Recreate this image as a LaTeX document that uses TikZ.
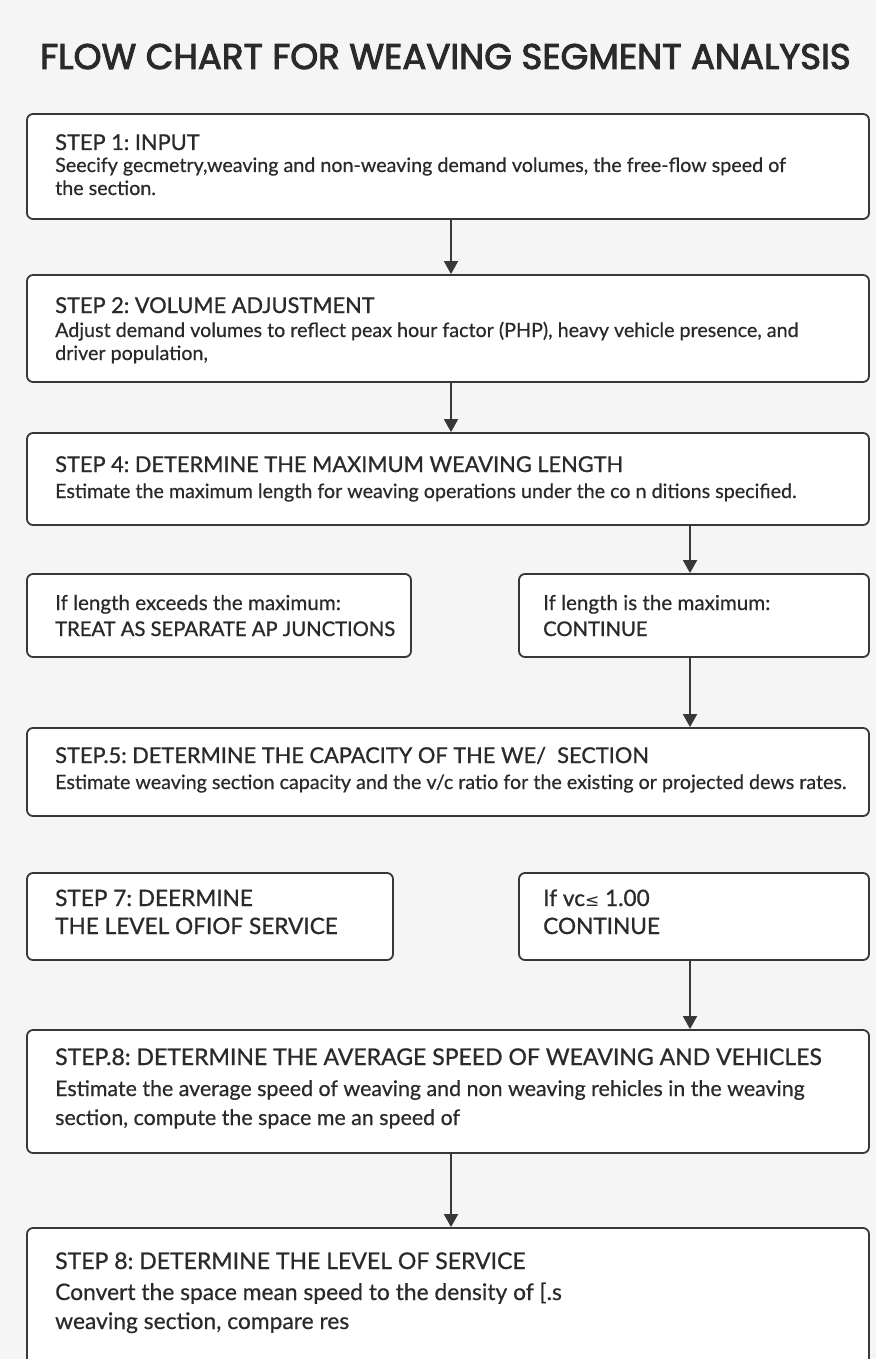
\documentclass[tikz,border=0pt]{standalone}
\usepackage{fontspec}
\setmainfont{Lato}
\newfontfamily\bodyfont{Lato}[FakeBold=0.5]
\newfontfamily\headfont{Lato}[FakeBold=0.9]
\newfontfamily\titlefont{Poppins}[FakeBold=2.8]
\newfontfamily\symfont{DejaVu Sans}
\usetikzlibrary{arrows.meta}
\definecolor{bg}{HTML}{F5F5F5}
\definecolor{ink}{HTML}{2A2A2A}
\definecolor{edge}{HTML}{383838}
\frenchspacing
\begin{document}
\begin{tikzpicture}[x=1pt,y=-1pt,
  box/.style={draw=edge, line width=1.8pt, fill=white, rounded corners=6pt, inner sep=0pt},
  hd/.style={anchor=base west, inner sep=0pt, text=ink, font=\headfont\fontsize{21.8}{22}\selectfont},
  tx/.style={anchor=base west, inner sep=0pt, text=ink, font=\bodyfont\fontsize{19.7}{20}\selectfont},
  sm/.style={anchor=base west, inner sep=0pt, text=ink, font=\bodyfont\fontsize{20.6}{21}\selectfont},
  smh/.style={anchor=base west, inner sep=0pt, text=ink, font=\headfont\fontsize{20.2}{21}\selectfont},
  md/.style={anchor=base west, inner sep=0pt, text=ink, font=\headfont\fontsize{22.6}{23}\selectfont},
  hdb/.style={anchor=base west, inner sep=0pt, text=ink, font=\headfont\fontsize{23}{23}\selectfont},
  txb/.style={anchor=base west, inner sep=0pt, text=ink, font=\bodyfont\fontsize{21.4}{22}\selectfont},
  txc/.style={anchor=base west, inner sep=0pt, text=ink, font=\bodyfont\fontsize{22.8}{23}\selectfont},
  arr/.style={draw=edge, line width=1.8pt, -{Triangle[width=14pt,length=13pt]}}]
\clip (0,0) rectangle (876,1359);
\fill[bg] (0,0) rectangle (876,1359);

\node[anchor=base, inner sep=0pt, text=ink, font=\titlefont\fontsize{35.6}{36}\selectfont] (title) at (445.5,69) {FLOW CHART FOR WEAVING SEGMENT ANALYSIS};

% boxes
\node[box, minimum width=842pt, minimum height=105pt] (b1) at (448,166.5) {};
\node[box, minimum width=842pt, minimum height=107pt] (b2) at (448,328.5) {};
\node[box, minimum width=842pt, minimum height=92pt] (b3) at (448,479) {};
\node[box, minimum width=384pt, minimum height=83pt] (b4a) at (219,615.5) {};
\node[box, minimum width=350pt, minimum height=83pt] (b4b) at (694,615.5) {};
\node[box, minimum width=842pt, minimum height=88pt] (b5) at (448,772) {};
\node[box, minimum width=366pt, minimum height=87pt] (b6a) at (210,916.5) {};
\node[box, minimum width=350pt, minimum height=87pt] (b6b) at (694,916.5) {};
\node[box, minimum width=842pt, minimum height=123pt] (b7) at (448,1091.5) {};
\node[box, minimum width=842pt, minimum height=172pt] (b8) at (448,1314) {};

% arrows
\draw[arr] ([xshift=3pt]b1.south) -- ([xshift=3pt]b2.north);
\draw[arr] ([xshift=3pt]b2.south) -- ([xshift=3pt]b3.north);
\draw[arr] ([xshift=-4pt]b4b.north |- b3.south) -- ([xshift=-4pt]b4b.north);
\draw[arr] ([xshift=-4pt]b4b.south) -- ([xshift=-4pt]b4b.south |- b5.north);
\draw[arr] ([xshift=-4pt]b6b.south) -- ([xshift=-4pt]b6b.south |- b7.north);
\draw[arr] ([xshift=3pt]b7.south) -- ([xshift=3pt]b7.south |- b8.north);

% texts
\node[hd] (t1h) at (55,150) {STEP 1: INPUT};
\node[tx] (t1a) at (55,172) {Seecify gecmetry,weaving and non-weaving demand volumes, the free-flow speed of};
\node[tx] (t1b) at (55,195) {the section.};

\node[hd] (t2h) at (55,313) {STEP 2: VOLUME ADJUSTMENT};
\node[tx] (t2a) at (55,337) {Adjust demand volumes to reflect peax hour factor (PHP), heavy vehicle presence, and};
\node[tx] (t2b) at (55,360) {driver population,};

\node[hd] (t3h) at (55,472) {STEP 4: DETERMINE THE MAXIMUM WEAVING LENGTH};
\node[tx] (t3a) at (55,498) {Estimate the maximum length for weaving operations under the co n ditions specified.};

\node[sm] (t4aa) at (55,610) {If length exceeds the maximum:};
\node[smh] (t4ab) at (55,636) {TREAT AS SEPARATE AP JUNCTIONS};
\node[sm] (t4ba) at (543,610) {If length is the maximum:};
\node[smh] (t4bb) at (543,636) {CONTINUE};

\node[hd] (t5h) at (55,763) {STEP.5: DETERMINE THE CAPACITY OF THE WE/\ \ SECTION};
\node[tx] (t5a) at (55,789) {Estimate weaving section capacity and the v/c ratio for the existing or projected dews rates.};

\node[md] (t6aa) at (55,906) {STEP 7: DEERMINE};
\node[md] (t6ab) at (55,934) {THE LEVEL OFIOF SERVICE};
\node[md] (t6ba) at (543,906) {If vc{\symfont\fontsize{17}{17}\selectfont ≤} 1.00};
\node[md] (t6bb) at (543,934) {CONTINUE};

\node[hdb] (t7h) at (55,1065) {STEP.8: DETERMINE THE AVERAGE SPEED OF WEAVING AND VEHICLES};
\node[txb] (t7a) at (55,1096) {Estimate the average speed of weaving and non weaving rehicles in the weaving};
\node[txb] (t7b) at (55,1125) {section, compute the space me an speed of};

\node[hdb] (t8h) at (55,1269) {STEP 8: DETERMINE THE LEVEL OF SERVICE};
\node[txc] (t8a) at (55,1300) {Convert the space mean speed to the density of [.s};
\node[txc] (t8b) at (55,1329) {weaving section, compare res};
\end{tikzpicture}
\end{document}
